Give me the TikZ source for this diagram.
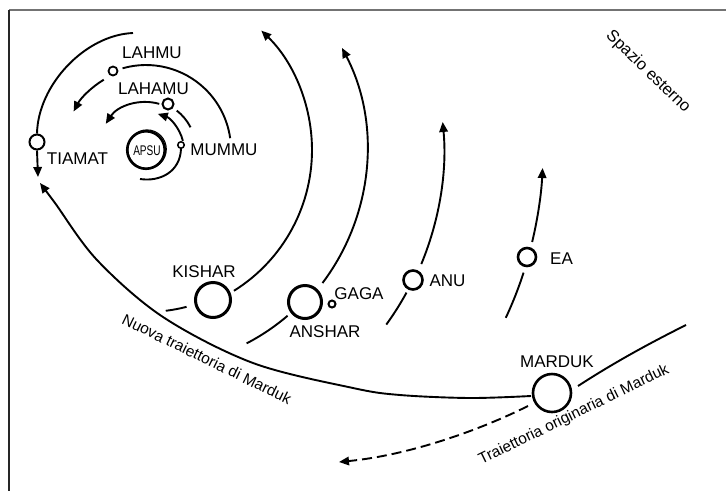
\documentclass[tikz,border=0pt]{standalone}
\usepackage{fontspec}
\setmainfont{Liberation Sans}
\usetikzlibrary{arrows.meta}
\begin{document}
\begin{tikzpicture}[x=1pt,y=-1pt,
  orbit/.style={line width=1.9pt},
  tipped/.style={-{Triangle[length=10pt,width=8.5pt]}},
  planet/.style={circle,draw,line width=#1,inner sep=0pt,fill=white},
  lbl/.style={font=\fontsize{17}{17}\selectfont,inner sep=0pt},
  rlbl/.style={font=\fontsize{15.5}{15.5}\selectfont,inner sep=0pt},
]
\useasboundingbox (0,0) rectangle (726,491);
% frame
\draw[line width=1.5pt,black!55] (9,10) -- (726,10);
\draw[line width=1.3pt,black!85] (9,10) -- (9,491);

% orbits concentric around Apsu
\begin{scope}[shift={(146,150)}]
  \draw[orbit,tipped] (58:166) arc[start angle=58,end angle=-46,radius=166];
  \draw[orbit] (75.5:162) arc[start angle=75.5,end angle=83,radius=162];
  \draw[orbit,tipped] (37:221) arc[start angle=37,end angle=-27.5,radius=221];
  \draw[orbit] (49.5:218) arc[start angle=49.5,end angle=62.5,radius=218];
  \draw[orbit,tipped] (22.5:298) arc[start angle=22.5,end angle=-5.4,radius=298];
  \draw[orbit] (28.7:297) arc[start angle=28.7,end angle=36,radius=297];
  \draw[orbit,tipped] (13.4:397) arc[start angle=13.4,end angle=2.6,radius=397];
  \draw[orbit] (18:397) arc[start angle=18,end angle=25,radius=397];
  \draw[orbit] (-106:85) arc[start angle=-106,end angle=-8,radius=85];
  \draw[orbit,tipped] (-121:82) arc[start angle=-121,end angle=-152,radius=82];
  \draw[orbit,tipped] (-74:48) arc[start angle=-74,end angle=-147,radius=48];
  \draw[orbit] (-52:50) arc[start angle=-52,end angle=-27,radius=50];
  \draw[orbit,tipped] (-14:38) arc[start angle=-14,end angle=-72,radius=38];
\end{scope}

% planets
\node[planet=2pt,minimum size=15pt] (tiamat) at (37,142) {};
\node[planet=1.8pt,minimum size=9pt] (lahmu) at (113,71) {};
\node[planet=2pt,minimum size=11pt] (lahamu) at (168,104) {};
\node[planet=1.5pt,minimum size=6.5pt] (mummu) at (181,145) {};
\node[planet=2.6pt,minimum size=37.5pt] (apsu) at (146,150) {};
\draw[line width=1.1pt] (147,149.2) circle[radius=19.3];
\node[font=\fontsize{14}{14}\selectfont,inner sep=0pt] (apsutext) at (147,151) {\scalebox{0.72}[1]{APSU}};
\node[planet=3pt,minimum size=35pt] (kishar) at (213,300) {};
\node[planet=3pt,minimum size=33pt] (anshar) at (305,302) {};
\node[planet=2pt,minimum size=7pt] (gaga) at (332,304) {};
\node[planet=2.6pt,minimum size=19pt] (anu) at (413,280) {};
\node[planet=2.6pt,minimum size=18pt] (ea) at (527,257) {};
\node[planet=2.6pt,minimum size=38pt] (marduk) at (552,393) {};

% Tiamat orbit and arrow
\coordinate (tstart) at (133,33);
\coordinate (ttip) at (38,177);
\draw[orbit] (tstart) .. controls (85,35) and (38,85) .. (tiamat.north);
\draw[orbit,tipped] (tiamat.south) -- (ttip);

% Apsu lower arc from Mummu
\coordinate (apsulow) at (140,179);
\draw[orbit] (mummu.south) .. controls (180,172) and (160,182) .. (apsulow);

% Marduk trajectories
\coordinate (mtip) at (40,183);
\draw[orbit,tipped] plot[smooth,tension=0.55] coordinates {(531,396) (470,398) (400,395) (353,388) (253,363) (163,317) (97,260) (55,203) (mtip)};
\coordinate (mstart) at (686,325);
\coordinate (mend) at (578,386);
\draw[orbit] (mstart) .. controls (650,343) and (615,362) .. (mend);
\coordinate (dstart) at (528,406);
\coordinate (dtip) at (339,462);
\draw[orbit,tipped,dash pattern=on 10pt off 5pt] (dstart) .. controls (480,430) and (410,455) .. (dtip);

% labels
\node[lbl] (llahmu) at (152,53) {LAHMU};
\node[lbl] (llahamu) at (153.5,88.5) {LAHAMU};
\node[lbl] (lmummu) at (224,150) {MUMMU};
\node[lbl] (ltiamat) at (77.5,158.5) {TIAMAT};
\node[lbl] (lkishar) at (204,272) {KISHAR};
\node[lbl] (lanshar) at (325,332) {ANSHAR};
\node[lbl] (lgaga) at (359,294) {GAGA};
\node[lbl] (lanu) at (447.5,281) {ANU};
\node[lbl] (lea) at (561.5,259) {EA};
\node[lbl] (lmarduk) at (557,362) {MARDUK};

\node[rlbl,font=\fontsize{16.5}{16.5}\selectfont,rotate=-44] (spazio) at (648,72) {Spazio esterno};
\node[rlbl,rotate=-26] (nuova) at (207,359) {Nuova traiettoria di Marduk};
\node[rlbl,rotate=26] (orig) at (574,415) {Traiettoria originaria di Marduk};
\end{tikzpicture}
\end{document}
